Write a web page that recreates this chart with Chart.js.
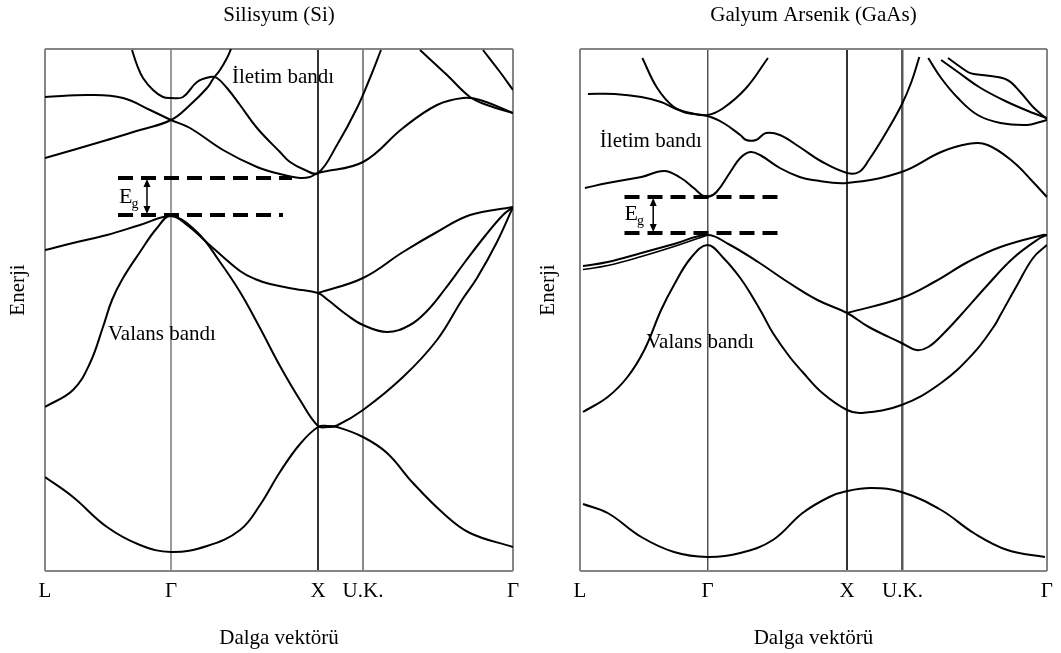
<!DOCTYPE html>
<html lang="tr">
<head>
<meta charset="utf-8">
<title>Si ve GaAs bant yapısı</title>
<script src="https://cdn.jsdelivr.net/npm/chart.js@4.4.1/dist/chart.umd.min.js"></script>
<style>
  html, body { margin: 0; padding: 0; background: #ffffff; }
  #figure { position: relative; width: 1061px; height: 653px; overflow: hidden; background: #fff; }
  #figure canvas { position: absolute; top: 0; }
  #si { left: 0; }
  #gaas { left: 530px; }
</style>
</head>
<body>
<div id="figure">
  <canvas id="si" width="530" height="653"></canvas>
  <canvas id="gaas" width="531" height="653"></canvas>
</div>
<script>
// k: position along the L–Γ–X–U,K–Γ path (0–100); E: energy (arbitrary units)
const pathLabels = ['L', 'Γ', 'X', 'U.K.', 'Γ'];
const siPathTicks = [0, 26.92, 58.33, 67.95, 100];
const gaasPathTicks = [0, 27.33, 57.2, 69.07, 100];
const energyRange = [0, 104.4];

// ---- Silisyum (Si) ----
const siValence1 = [[0,18.8],[5.98,14.8],[13.25,8.8],[20.3,5.2],[26.92,3.8],[34.62,5],[41.67,8.2],[45.94,13.2],[50.21,19.8],[54.49,25.4],[58.33,28.8],[60.4,29],[62.39,28.8],[67.95,26.8],[73.08,23.6],[78.63,17.6],[85.04,11.6],[90.81,7.6],[100,4.8]];
const siValence2 = [[0,32.8],[5.98,36.2],[9.62,41.6],[12.39,48.8],[14.32,54.2],[16.67,58.6],[20.3,63.8],[23.93,68.6],[26.92,71],[32.48,67.8],[37.39,61.8],[41.67,55.8],[45.94,48.6],[50.21,41],[54.49,34.2],[58.33,29],[60.4,28.8],[62.39,29.1],[67.95,32.2],[76.5,38.8],[83.76,46.2],[89.1,54.2],[92.31,58.6],[96.58,65.8],[100,72.8]];
const siValence3 = [[0,64.2],[5.98,65.6],[13.25,67.2],[20.3,69.2],[26.92,71],[30.34,69.2],[35.9,64.6],[41.67,60],[44.87,58.4],[48.08,57.4],[53.42,56.4],[58.33,55.6],[60.47,54.2],[64.53,51.2],[67.95,49.2],[73.08,47.8],[77.99,49.2],[81.62,52],[85.47,56.4],[89.74,61.8],[94.02,67],[97.86,71.2],[100,72.8]];
const siValence4 = [[58.33,55.6],[67.95,58.6],[76.5,63.8],[83.76,67.8],[90.81,71.2],[100,72.8]];
const siConduction1 = [[0,82.6],[5.98,84.2],[13.25,86.2],[20.3,88.2],[26.92,90.2],[30.98,93.2],[34.62,96.6],[35.9,98.4],[37.39,100.2],[38.89,102.6],[39.74,104.4]];
const siConduction2 = [[0,94.8],[9.62,95.2],[16.67,94.6],[22.44,92.2],[26.92,90.2],[30.98,88.6],[38.03,84.2],[45.3,80.8],[50.21,79.4],[54.49,78.6],[56.62,78.8],[58.33,79.6],[67.95,81.8],[76.5,88.6],[83.76,93.2],[89.32,94.6],[92.95,94.2],[100,91.6]];
const siConduction3 = [[18.59,104.2],[19.66,101.2],[20.94,98.6],[23.08,96.2],[25.21,94.8],[26.92,94.6],[29.49,94.8],[32.48,97.8],[35.26,98.8],[36.75,98.6],[38.89,96.6],[41.67,93.2],[45.3,88.6],[50.21,83.8],[52.35,81.8],[55.56,80.2],[58.33,79.6],[62.39,85.2],[66.67,92.6],[69.44,98.6],[71.79,104.2]];
const siConduction4 = [[80.13,104.2],[85.9,99.2],[90.81,94.8],[94.44,93.2],[100,91.6]];
const siConduction5 = [[93.59,104.2],[97.22,99.8],[100,96.2]];
const siGapEdges = [71.2, 78.6];          // valence top, conduction bottom
const siGapDashEnds = [[15.6, 50.85], [15.6, 52.78]];
const siGapArrowK = 21.79;

// ---- Galyum Arsenik (GaAs) ----
const gaasValence1 = [[0.64,13.4],[5.93,11.6],[13.14,6.8],[20.13,3.8],[27.33,2.8],[34.32,3.6],[41.31,6.2],[47.67,11.6],[53.39,14.8],[57.2,16],[62.5,16.6],[68.86,15.8],[77.33,12.2],[84.32,7.6],[91.53,4.2],[99.58,2.8]];
const gaasValence2 = [[0.64,31.8],[5.93,34.8],[10.17,38.8],[13.77,44.2],[17.37,52.2],[20.13,57.2],[23.73,62.6],[27.33,65.2],[30.72,62.6],[34.32,58.6],[37.08,54.6],[39.19,51.2],[41.31,47.6],[44.92,42.8],[47.67,39.8],[51.91,35.6],[57.2,32.2],[60.38,31.6],[68.86,33.2],[77.33,37.6],[84.32,43.6],[88.56,48.8],[90.04,51.2],[93.64,57.2],[97.03,62.6],[100,65.2]];
const gaasValence3 = [[0.64,61],[5.93,61.8],[13.14,63.6],[20.13,65.4],[27.33,67.2],[31.78,65.4],[38.14,61.8],[44.49,57.8],[50.85,54.2],[57.2,51.6],[61.86,48.8],[68.86,45.6],[72.03,44.2],[74.58,44.8],[77.97,47.6],[81.57,51.2],[87.29,57.2],[92.8,62.6],[98.52,66.6],[100,67.2]];
const gaasValence3b = [[0.64,60.3],[5.93,61.1],[13.14,62.9],[20.13,64.9],[27.33,67.2]];
const gaasValence4 = [[57.2,51.6],[68.86,54.6],[75.85,57.8],[83.05,61.8],[90.04,64.8],[99.15,67.2],[100,67.2]];
const gaasConduction1 = [[1.06,76.6],[5.93,77.6],[13.14,78.8],[18.01,80],[21.61,78.6],[24.36,76.6],[26.06,75.2],[27.33,74.8],[29.24,75.8],[32.2,79.8],[34.32,82.6],[36.44,83.8],[38.56,83.2],[42.8,80.6],[47.03,78.8],[49.79,78.2],[57.2,77.6],[68.86,79.8],[77.33,83.8],[83.05,85.4],[87.29,85.2],[92.8,81.8],[97.03,77.8],[100,74.8]];
const gaasConduction2 = [[1.69,95.4],[7.42,95.4],[13.14,94.8],[17.37,93.8],[20.13,92.6],[22.88,91.6],[27.33,91],[30.72,89.6],[34.32,87.2],[35.59,86.2],[37.71,86.2],[39.83,87.6],[42.8,87.2],[47.03,84.8],[51.91,81.8],[57.2,79.6],[59.75,79.8],[61.86,82.2],[65.25,87.2],[68.86,93.2],[70.97,97.8],[72.67,102.8]];
const gaasConduction3 = [[13.35,102.6],[16.53,96.6],[20.13,92.8],[23.73,91.6],[27.33,91.2],[30.72,92.6],[35.59,96.6],[40.25,102.6]];
const gaasConduction4 = [[74.58,102.6],[77.33,98.6],[80.93,94.6],[85.17,91.2],[90.04,89.6],[95.76,89.2],[98.52,89.8],[100,90.2]];
const gaasConduction5 = [[77.33,102.2],[80.93,99.8],[85.81,96.6],[91.53,93.8],[97.03,91.6],[100,90.6]];
const gaasConduction6 = [[78.81,102.6],[83.05,99.8],[84.32,99.4],[87.92,99],[91.53,98.2],[94.28,95.8],[97.03,92.8],[100,90.4]];
const gaasGapEdges = [67.6, 74.8];
const gaasGapDashEnds = [[9.53, 42.37], [9.53, 42.37]];
const gaasGapArrowK = 15.68;

const SERIF = "'Liberation Serif', 'Times New Roman', serif";

function band(points, width) {
  return {
    data: points.map(([k, e]) => ({ x: k, y: e })),
    showLine: true,
    borderColor: '#000',
    borderWidth: width || 2,
    pointRadius: 0,
    fill: false,
    tension: 0.4
  };
}

function gapDash(ends, energy) {
  return {
    data: [{ x: ends[0], y: energy }, { x: ends[1], y: energy }],
    showLine: true,
    borderColor: '#000',
    borderWidth: 4,
    borderDash: [15, 8],
    borderCapStyle: 'butt',
    pointRadius: 0,
    fill: false,
    tension: 0
  };
}

// Energy-gap arrow, E_g symbol, band names and the rotated energy label
const bandNotes = {
  id: 'bandNotes',
  afterDatasetsDraw(chart, args, opts) {
    const { ctx, scales: { x, y } } = chart;
    ctx.save();
    ctx.fillStyle = '#000';
    ctx.strokeStyle = '#000';

    // double-headed arrow across the gap
    const ax = x.getPixelForValue(opts.arrowK);
    const yLo = y.getPixelForValue(opts.gap[0]);
    const yHi = y.getPixelForValue(opts.gap[1]);
    const head = 8, half = 3.5;
    ctx.lineWidth = 1.5;
    ctx.beginPath();
    ctx.moveTo(ax, yHi + head - 1);
    ctx.lineTo(ax, yLo - head + 1);
    ctx.stroke();
    ctx.beginPath();
    ctx.moveTo(ax, yHi + 1); ctx.lineTo(ax - half, yHi + head + 1); ctx.lineTo(ax + half, yHi + head + 1); ctx.closePath();
    ctx.moveTo(ax, yLo - 1); ctx.lineTo(ax - half, yLo - head - 1); ctx.lineTo(ax + half, yLo - head - 1); ctx.closePath();
    ctx.fill();

    // E_g
    const ex = x.getPixelForValue(opts.egAt[0]);
    const ey = y.getPixelForValue(opts.egAt[1]);
    ctx.textAlign = 'left';
    ctx.textBaseline = 'alphabetic';
    ctx.font = `22px ${SERIF}`;
    ctx.fillText('E', ex, ey);
    const ew = ctx.measureText('E').width;
    ctx.font = `14px ${SERIF}`;
    ctx.fillText('g', ex + ew - 1, ey + 5);

    // band names
    ctx.font = `21px ${SERIF}`;
    ctx.textBaseline = 'middle';
    for (const lbl of opts.labels) {
      ctx.fillText(lbl.text, x.getPixelForValue(lbl.at[0]), y.getPixelForValue(lbl.at[1]));
    }

    // vertical axis name
    ctx.translate(opts.energyLabel[0], opts.energyLabel[1]);
    ctx.rotate(-Math.PI / 2);
    ctx.textAlign = 'center';
    ctx.fillText('Enerji', 0, 0);
    ctx.restore();
  }
};

function panel(canvasId, cfg) {
  const font = { family: SERIF, size: 21, weight: 'normal' };
  return new Chart(document.getElementById(canvasId), {
    type: 'scatter',
    data: { datasets: cfg.datasets },
    options: {
      responsive: false,
      animation: false,
      events: [],
      layout: { padding: { left: 0, right: cfg.padRight, top: 0, bottom: 0 } },
      plugins: {
        legend: { display: false },
        tooltip: { enabled: false },
        title: {
          display: true, text: cfg.title, fullSize: false, color: '#000',
          font, padding: { top: 3, bottom: 20.8 }
        },
        bandNotes: cfg.notes
      },
      scales: {
        x: {
          type: 'linear', min: 0, max: 100,
          afterBuildTicks: s => { s.ticks = cfg.pathTicks.map(v => ({ value: v })); },
          afterFit: s => { s.height = 82; },
          ticks: {
            autoSkip: false, maxRotation: 0, padding: 8, color: '#000', font,
            callback: (v, i) => pathLabels[i]
          },
          grid: { drawTicks: false, color: cfg.gridColors, lineWidth: cfg.gridWidths },
          border: { display: false },
          title: { display: true, text: 'Dalga vektörü', color: '#000', font, padding: { top: 0, bottom: 2 } }
        },
        y: {
          type: 'linear', min: energyRange[0], max: energyRange[1],
          afterBuildTicks: s => { s.ticks = energyRange.map(v => ({ value: v })); },
          afterFit: s => { s.width = cfg.padLeft; },
          ticks: { display: false },
          grid: { drawTicks: false, color: '#858585', lineWidth: 2 },
          border: { display: false }
        }
      }
    },
    plugins: [bandNotes]
  });
}

panel('si', {
  title: 'Silisyum (Si)',
  pathTicks: siPathTicks,
  padLeft: 45, padRight: 17,
  gridColors: ['#858585', '#9a9a9a', '#333333', '#8a8a8a', '#858585'],
  gridWidths: [2, 2, 2, 2, 2],
  datasets: [
    band(siValence1), band(siValence2), band(siValence3), band(siValence4),
    band(siConduction1), band(siConduction2), band(siConduction3), band(siConduction4), band(siConduction5),
    gapDash(siGapDashEnds[0], siGapEdges[0]), gapDash(siGapDashEnds[1], siGapEdges[1])
  ],
  notes: {
    arrowK: siGapArrowK, gap: siGapEdges,
    egAt: [15.81, 73.6],
    labels: [
      { text: 'İletim bandı', at: [39.96, 98.8] },
      { text: 'Valans bandı', at: [13.46, 47.4] }
    ],
    energyLabel: [18, 290]
  }
});

panel('gaas', {
  title: 'Galyum Arsenik (GaAs)',
  pathTicks: gaasPathTicks,
  padLeft: 50, padRight: 9,
  gridColors: ['#858585', '#555555', '#333333', '#5a5a5a', '#858585'],
  gridWidths: [2, 1.5, 2, 2.5, 2],
  datasets: [
    band(gaasValence1), band(gaasValence2), band(gaasValence3), band(gaasValence3b, 1.6), band(gaasValence4),
    band(gaasConduction1), band(gaasConduction2), band(gaasConduction3),
    band(gaasConduction4), band(gaasConduction5), band(gaasConduction6),
    gapDash(gaasGapDashEnds[0], gaasGapEdges[0]), gapDash(gaasGapDashEnds[1], gaasGapEdges[1])
  ],
  notes: {
    arrowK: gaasGapArrowK, gap: gaasGapEdges,
    egAt: [9.53, 70.2],
    labels: [
      { text: 'İletim bandı', at: [4.24, 86.0] },
      { text: 'Valans bandı', at: [14.19, 45.8] }
    ],
    energyLabel: [18.5, 290]
  }
});
</script>
</body>
</html>
